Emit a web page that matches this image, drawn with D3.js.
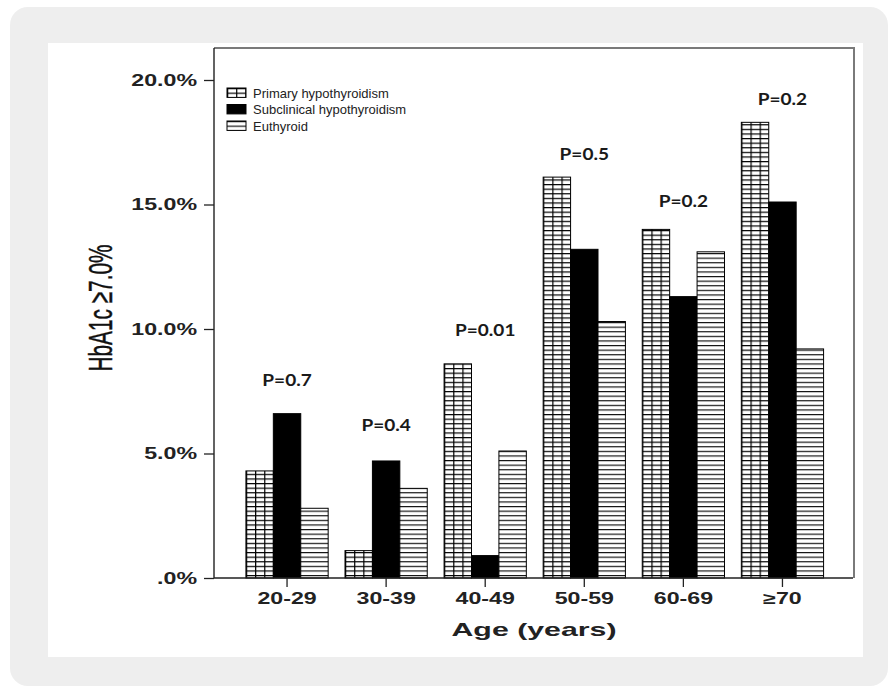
<!DOCTYPE html>
<html>
<head>
<meta charset="utf-8">
<script src="https://cdn.jsdelivr.net/npm/d3@7"></script>
<style>
  body { margin: 0; background: #fff; }
  svg { display: block; }
</style>
</head>
<body>
<div class="chart"></div>
<script>
// data
var categories = ["20-29", "30-39", "40-49", "50-59", "60-69", "\u226570"];
var seriesNames = ["Primary hypothyroidism", "Subclinical hypothyroidism", "Euthyroid"];
var primary = [4.3, 1.1, 8.6, 16.1, 14.0, 18.3];
var subclinical = [6.6, 4.7, 0.9, 13.2, 11.3, 15.1];
var euthyroid = [2.8, 3.6, 5.1, 10.3, 13.1, 9.2];
var pLabels = ["P=0.7", "P=0.4", "P=0.01", "P=0.5", "P=0.2", "P=0.2"];
var pLabelLevel = [7.7, 5.9, 9.7, 16.8, 14.9, 19.0];
var yTicks = [0, 5, 10, 15, 20];

var W = 888, H = 687;
var plot = {left: 214, right: 854, top: 48, bottom: 578};

var svg = d3.select(".chart").append("svg")
    .attr("width", W)
    .attr("height", H);

// card background
svg.append("rect")
    .attr("x", 10).attr("y", 7)
    .attr("width", 878).attr("height", 679)
    .attr("rx", 18)
    .style("fill", "#eeeeee");
svg.append("rect")
    .attr("x", 48).attr("y", 43)
    .attr("width", 815).attr("height", 614)
    .style("fill", "#ffffff");

var x = d3.scaleBand().domain(categories)
    .range([237.5, 832]).paddingInner(0.17).paddingOuter(0.085);
var xs = d3.scaleBand().domain(seriesNames).range([0, x.bandwidth()]);
var y = d3.scaleLinear().domain([0, 20]).range([plot.bottom, 80]);

var bw = xs.bandwidth();
var defs = svg.append("defs");

// grid hatch
var pg = defs.append("pattern")
    .attr("id", "pGrid")
    .attr("patternUnits", "userSpaceOnUse")
    .attr("width", bw / 3).attr("height", 4.6);
pg.append("rect").attr("width", bw / 3).attr("height", 4.6).style("fill", "#fff");
pg.append("line").attr("x1", 0).attr("x2", bw / 3).attr("y1", 0.6).attr("y2", 0.6)
    .style("stroke", "#000").style("stroke-width", 1.2);
pg.append("line").attr("x1", 0.6).attr("x2", 0.6).attr("y1", 0).attr("y2", 4.6)
    .style("stroke", "#000").style("stroke-width", 1.2);

// horizontal hatch
var ph = defs.append("pattern")
    .attr("id", "pHoriz")
    .attr("patternUnits", "userSpaceOnUse")
    .attr("width", 10).attr("height", 4.6);
ph.append("rect").attr("width", 10).attr("height", 4.6).style("fill", "#fff");
ph.append("line").attr("x1", 0).attr("x2", 10).attr("y1", 0.6).attr("y2", 0.6)
    .style("stroke", "#000").style("stroke-width", 1.1);

var fills = ["url(#pGrid)", "#000", "url(#pHoriz)"];
var seriesValues = [primary, subclinical, euthyroid];

// plot frame
svg.append("path")
    .attr("d", "M" + plot.left + "," + plot.top + "H" + plot.right + "V" + plot.bottom)
    .style("fill", "none").style("stroke", "#7a7a7a").style("stroke-width", 2);

// bars
var groups = svg.selectAll("g.cat")
    .data(categories)
    .enter().append("g")
    .attr("class", "cat")
    .attr("transform", function(d) { return "translate(" + x(d) + ",0)"; });

groups.selectAll("rect")
    .data(function(d, i) {
        return seriesNames.map(function(s, j) { return {s: s, j: j, v: seriesValues[j][i]}; });
    })
    .enter().append("rect")
    .attr("x", function(d) { return xs(d.s); })
    .attr("y", function(d) { return y(d.v); })
    .attr("width", bw)
    .attr("height", function(d) { return plot.bottom - y(d.v); })
    .style("fill", function(d) { return fills[d.j]; })
    .style("stroke", "#000")
    .style("stroke-width", 1);

// P labels
svg.selectAll("text.plab")
    .data(categories)
    .enter().append("text")
    .attr("class", "plab")
    .attr("transform", function(d, i) {
        return "translate(" + (x(d) + x.bandwidth() / 2) + "," + y(pLabelLevel[i]) + ") scale(1.12,1)";
    })
    .attr("text-anchor", "middle")
    .style("font-family", "Lato, 'Open Sans', sans-serif")
    .style("font-weight", "bold")
    .style("font-size", "17px")
    .style("fill", "#1a1a1a")
    .text(function(d, i) { return pLabels[i]; });

// axes
var yAxis = d3.axisLeft(y)
    .tickValues(yTicks)
    .tickSize(10)
    .tickPadding(5)
    .tickFormat(function(d) { return d === 0 ? ".0%" : d.toFixed(1) + "%"; });

var gy = svg.append("g")
    .attr("class", "y axis")
    .attr("transform", "translate(" + plot.left + ",0)")
    .call(yAxis);
gy.select(".domain").remove();
gy.selectAll("line").style("stroke", "#222").style("stroke-width", 1.3);
gy.selectAll("text")
    .attr("x", -17 / 1.45)
    .attr("transform", "scale(1.45,1)")
    .style("font-family", "'Liberation Sans', Arial, sans-serif")
    .style("font-weight", "bold")
    .style("font-size", "16px")
    .style("fill", "#222");

var xAxis = d3.axisBottom(x)
    .tickSize(9)
    .tickPadding(6);

var gx = svg.append("g")
    .attr("class", "x axis")
    .attr("transform", "translate(0," + plot.bottom + ")")
    .call(xAxis);
gx.select(".domain").remove();
gx.selectAll("line").style("stroke", "#222").style("stroke-width", 1.3);
gx.selectAll("text")
    .attr("transform", "scale(1.45,1)")
    .style("font-family", "'Liberation Sans', Arial, sans-serif")
    .style("font-weight", "bold")
    .style("font-size", "16px")
    .style("fill", "#222");

// axis lines
svg.append("path")
    .attr("d", "M" + plot.left + "," + plot.top + "V" + plot.bottom + "H" + (plot.right - 1))
    .style("fill", "none").style("stroke", "#222").style("stroke-width", 1.4);

// axis titles
svg.append("text")
    .attr("x", 534).attr("y", 636)
    .attr("text-anchor", "middle")
    .attr("textLength", 165)
    .attr("lengthAdjust", "spacingAndGlyphs")
    .style("font-family", "'Liberation Sans', Arial, sans-serif")
    .style("font-weight", "bold")
    .style("font-size", "19px")
    .style("fill", "#222")
    .text("Age (years)");

svg.append("text")
    .attr("transform", "translate(112,308) scale(1.45,1) rotate(-90)")
    .attr("text-anchor", "middle")
    .attr("textLength", 127)
    .attr("lengthAdjust", "spacingAndGlyphs")
    .style("font-family", "'Liberation Sans Narrow', 'Arial Narrow', 'Liberation Sans', sans-serif")
    .style("font-size", "23px")
    .style("stroke", "#111").style("stroke-width", 0.3)
    .style("fill", "#111")
    .text("HbA1c \u22657.0%");

// legend
var leg = svg.selectAll("g.leg")
    .data(seriesNames)
    .enter().append("g")
    .attr("class", "leg")
    .attr("transform", function(d, i) { return "translate(227," + (88 + i * 16.5) + ")"; });

leg.append("rect")
    .attr("width", 19).attr("height", 9.4)
    .style("fill", function(d, i) { return fills[i]; })
    .style("stroke", "#000").style("stroke-width", 1);

leg.append("text")
    .attr("transform", "translate(26,9.5)")
    .style("font-family", "'Liberation Sans', Arial, sans-serif")
    .style("font-size", "13px")
    .style("fill", "#222")
    .text(function(d) { return d; });
</script>
</body>
</html>
